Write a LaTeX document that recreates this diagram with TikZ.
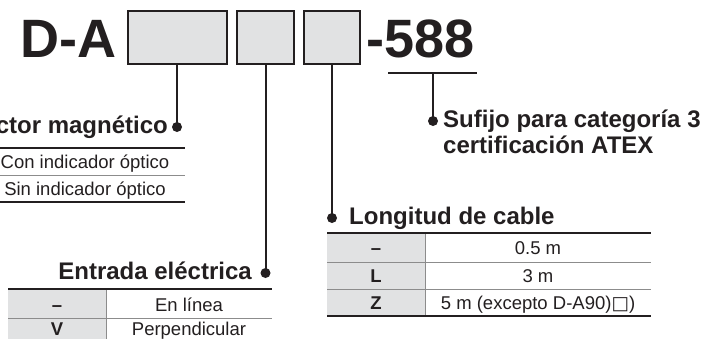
\documentclass[tikz,border=0pt]{standalone}
\usepackage{fontspec}
\setmainfont{Liberation Sans}
\newfontfamily\symfont{DejaVu Sans}
\definecolor{ink}{HTML}{231F20}
\definecolor{cellgray}{HTML}{E1E2E3}
\definecolor{rulegray}{HTML}{8C8C8C}

\begin{document}
\begin{tikzpicture}[x=1pt, y=-1pt,
	every node/.style={font=\fontsize{18.5}{20}\selectfont, text=ink, inner sep=0pt},
	head/.style={font=\fontsize{24}{27}\selectfont\bfseries},
	code/.style={font=\fontsize{54}{60}\selectfont\bfseries},
	key/.style={font=\fontsize{18.5}{20}\selectfont\bfseries},
	slot/.style={draw=ink, line width=2pt, fill=cellgray, minimum width=#1, minimum height=53pt},
	lead/.style={draw=ink, line width=2pt},
	knob/.style={circle, fill=ink, minimum size=10pt}]
	\useasboundingbox (0,0) rectangle (720,338);
	\node[code, anchor=base west] (pfx) at (20,57) {D-A};
	\node[slot=99pt] (box1) at (177,37.5) {};
	\node[slot=57pt] (box2) at (265.5,37.5) {};
	\node[slot=56pt] (box3) at (332,37.5) {};
	\node[code, anchor=base west] (sfx) at (366,57) {-588};
	\coordinate (ulA) at (388,73);
	\coordinate (ulB) at (477,73);
	\coordinate (ulM) at (433,73);
	\draw[lead] (ulA) -- (ulB);
	\node[knob] (dsfx) at (433,121) {};
	\draw[lead] (ulM) -- (dsfx.center);
	\node[head, anchor=base west] (tsfx) at (443,127) {Sufijo para categoría 3};
	\node[head, anchor=base west] (tsfx2) at (443,153) {certificación ATEX};
	\node[knob] (dmag) at (177,127) {};
	\draw[lead] (box1.south) -- (dmag.center);
	\node[head, anchor=base east] (tmag) at (168,133) {ctor magnético};
	\draw[ink, line width=2pt] (-5,148) -- (185,148);
	\draw[rulegray, line width=1pt] (-5,175) -- (185,175);
	\draw[ink, line width=1.2pt] (-5,202) -- (185,202);
	\node[anchor=base] (mag1) at (85,168) {Con indicador óptico};
	\node[anchor=base] (mag2) at (85,195) {Sin indicador óptico};
	\node[knob] (dlen) at (332,218) {};
	\draw[lead] (box3.south) -- (dlen.center);
	\node[head, anchor=base west] (tlen) at (349,224) {Longitud de cable};
	\fill[cellgray] (327,233) rectangle (425,316);
	\draw[rulegray, line width=1pt] (327,262) -- (651,262) (327,289) -- (651,289) (425,233) -- (425,316);
	\draw[ink, line width=2pt] (327,233) -- (651,233);
	\draw[ink, line width=1.4pt] (327,316) -- (651,316);
	\node[key, anchor=base] (len1) at (376,254) {–};
	\node[anchor=base] (len1v) at (538,254) {0.5 m};
	\node[key, anchor=base] (len2) at (376,282) {L};
	\node[anchor=base] (len2v) at (538,282) {3 m};
	\node[key, anchor=base] (len3) at (376,309) {Z};
	\node[anchor=base] (len3v) at (538,309) {5 m (excepto D-A90){\symfont □})};
	\node[knob] (dent) at (265.5,273) {};
	\draw[lead] (box2.south) -- (dent.center);
	\node[head, anchor=base east] (tent) at (252,279) {Entrada eléctrica};
	\fill[cellgray] (8,289) rectangle (106,340);
	\draw[rulegray, line width=1pt] (8,318) -- (272,318) (106,289) -- (106,340);
	\draw[ink, line width=2pt] (8,289) -- (272,289);
	\node[key, anchor=base] (ent1) at (57,311) {–};
	\node[anchor=base] (ent1v) at (189,311) {En línea};
	\node[key, anchor=base] (ent2) at (57,335) {V};
	\node[anchor=base] (ent2v) at (189,335) {Perpendicular};
\end{tikzpicture}
\end{document}
